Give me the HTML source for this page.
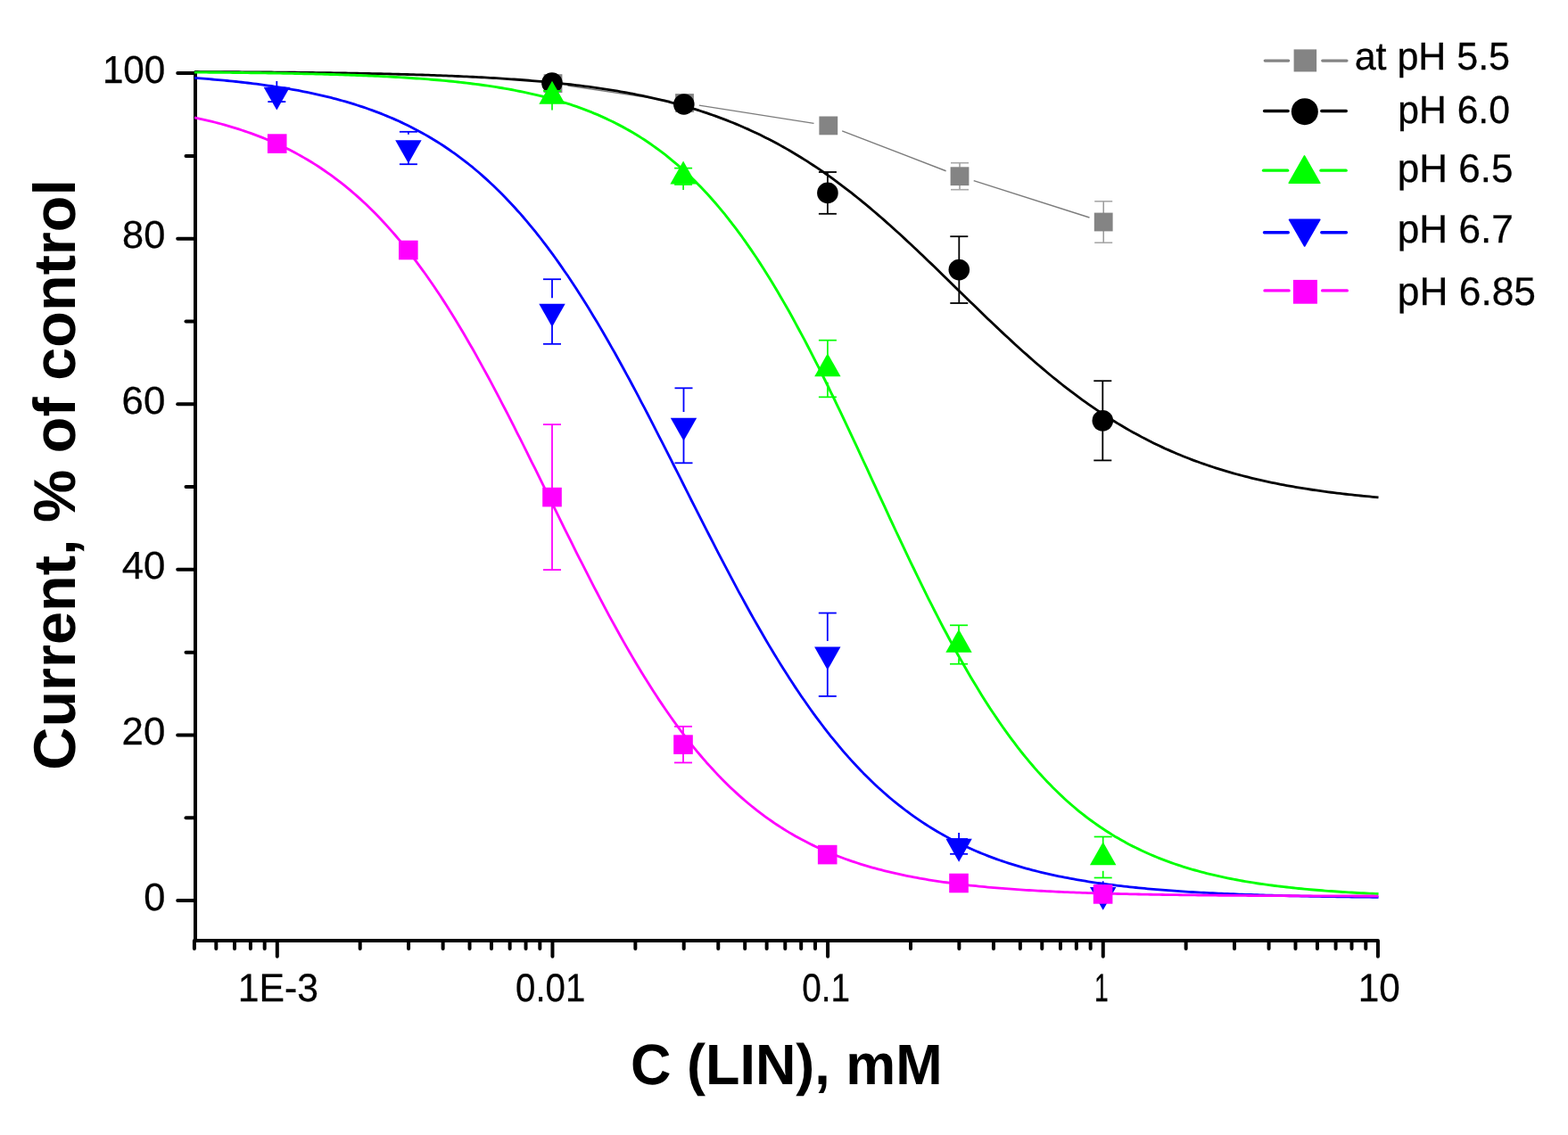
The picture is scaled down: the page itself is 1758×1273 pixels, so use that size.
<!DOCTYPE html>
<html lang="en"><head><meta charset="utf-8"><title>Current, % of control vs C (LIN), mM</title>
<style>
html,body{margin:0;padding:0;background:#fff;}
body{width:1758px;height:1273px;overflow:hidden;}
svg{display:block;}
text{white-space:pre;}
</style></head>
<body>
<svg width="1758" height="1273" viewBox="0 0 1758 1273">
<rect x="0" y="0" width="1758" height="1273" fill="#fff"/>
<path d="M219,81.9 L219,1055 L1544.9,1055 L1544.9,1072.8" stroke="#000" stroke-width="4" fill="none" stroke-linejoin="round" stroke-linecap="round"/>
<rect x="217.0" y="79.9" width="4" height="6" fill="#000"/>
<rect x="217.0" y="1049.0" width="4" height="8" fill="#000"/>
<g stroke="#000" stroke-width="4" fill="none" stroke-linecap="round">
<line x1="199.20" y1="1010.00" x2="219.00" y2="1010.00"/>
<line x1="208.50" y1="917.21" x2="219.00" y2="917.21"/>
<line x1="199.20" y1="824.42" x2="219.00" y2="824.42"/>
<line x1="208.50" y1="731.63" x2="219.00" y2="731.63"/>
<line x1="199.20" y1="638.84" x2="219.00" y2="638.84"/>
<line x1="208.50" y1="546.05" x2="219.00" y2="546.05"/>
<line x1="199.20" y1="453.26" x2="219.00" y2="453.26"/>
<line x1="208.50" y1="360.47" x2="219.00" y2="360.47"/>
<line x1="199.20" y1="267.68" x2="219.00" y2="267.68"/>
<line x1="208.50" y1="174.89" x2="219.00" y2="174.89"/>
<line x1="199.20" y1="82.10" x2="219.00" y2="82.10"/>
<line x1="217.89" y1="1055.00" x2="217.89" y2="1063.90"/>
<line x1="242.33" y1="1055.00" x2="242.33" y2="1063.90"/>
<line x1="262.99" y1="1055.00" x2="262.99" y2="1063.90"/>
<line x1="280.89" y1="1055.00" x2="280.89" y2="1063.90"/>
<line x1="296.68" y1="1055.00" x2="296.68" y2="1063.90"/>
<line x1="310.80" y1="1055.00" x2="310.80" y2="1072.80"/>
<line x1="403.71" y1="1055.00" x2="403.71" y2="1063.90"/>
<line x1="458.06" y1="1055.00" x2="458.06" y2="1063.90"/>
<line x1="496.63" y1="1055.00" x2="496.63" y2="1063.90"/>
<line x1="526.54" y1="1055.00" x2="526.54" y2="1063.90"/>
<line x1="550.98" y1="1055.00" x2="550.98" y2="1063.90"/>
<line x1="571.64" y1="1055.00" x2="571.64" y2="1063.90"/>
<line x1="589.54" y1="1055.00" x2="589.54" y2="1063.90"/>
<line x1="605.33" y1="1055.00" x2="605.33" y2="1063.90"/>
<line x1="619.45" y1="1055.00" x2="619.45" y2="1072.80"/>
<line x1="712.36" y1="1055.00" x2="712.36" y2="1063.90"/>
<line x1="766.71" y1="1055.00" x2="766.71" y2="1063.90"/>
<line x1="805.28" y1="1055.00" x2="805.28" y2="1063.90"/>
<line x1="835.19" y1="1055.00" x2="835.19" y2="1063.90"/>
<line x1="859.63" y1="1055.00" x2="859.63" y2="1063.90"/>
<line x1="880.29" y1="1055.00" x2="880.29" y2="1063.90"/>
<line x1="898.19" y1="1055.00" x2="898.19" y2="1063.90"/>
<line x1="913.98" y1="1055.00" x2="913.98" y2="1063.90"/>
<line x1="928.10" y1="1055.00" x2="928.10" y2="1072.80"/>
<line x1="1021.01" y1="1055.00" x2="1021.01" y2="1063.90"/>
<line x1="1075.36" y1="1055.00" x2="1075.36" y2="1063.90"/>
<line x1="1113.93" y1="1055.00" x2="1113.93" y2="1063.90"/>
<line x1="1143.84" y1="1055.00" x2="1143.84" y2="1063.90"/>
<line x1="1168.28" y1="1055.00" x2="1168.28" y2="1063.90"/>
<line x1="1188.94" y1="1055.00" x2="1188.94" y2="1063.90"/>
<line x1="1206.84" y1="1055.00" x2="1206.84" y2="1063.90"/>
<line x1="1222.63" y1="1055.00" x2="1222.63" y2="1063.90"/>
<line x1="1236.75" y1="1055.00" x2="1236.75" y2="1072.80"/>
<line x1="1329.66" y1="1055.00" x2="1329.66" y2="1063.90"/>
<line x1="1384.01" y1="1055.00" x2="1384.01" y2="1063.90"/>
<line x1="1422.58" y1="1055.00" x2="1422.58" y2="1063.90"/>
<line x1="1452.49" y1="1055.00" x2="1452.49" y2="1063.90"/>
<line x1="1476.93" y1="1055.00" x2="1476.93" y2="1063.90"/>
<line x1="1497.59" y1="1055.00" x2="1497.59" y2="1063.90"/>
<line x1="1515.49" y1="1055.00" x2="1515.49" y2="1063.90"/>
<line x1="1531.28" y1="1055.00" x2="1531.28" y2="1063.90"/>
</g>
<text transform="translate(114.89,92.65) scale(0.9694,1)" font-family='"Liberation Sans", sans-serif' stroke="#000" stroke-width="0.3" font-size="43.5" fill="#000" text-rendering="geometricPrecision" >100</text>
<text transform="translate(137.12,278.05) scale(0.9956,1)" font-family='"Liberation Sans", sans-serif' stroke="#000" stroke-width="0.3" font-size="43.5" fill="#000" text-rendering="geometricPrecision" >80</text>
<text transform="translate(136.57,464.15) scale(1.0073,1)" font-family='"Liberation Sans", sans-serif' stroke="#000" stroke-width="0.3" font-size="43.5" fill="#000" text-rendering="geometricPrecision" >60</text>
<text transform="translate(136.70,648.65) scale(1.0046,1)" font-family='"Liberation Sans", sans-serif' stroke="#000" stroke-width="0.3" font-size="43.5" fill="#000" text-rendering="geometricPrecision" >40</text>
<text transform="translate(136.60,835.05) scale(1.0068,1)" font-family='"Liberation Sans", sans-serif' stroke="#000" stroke-width="0.3" font-size="43.5" fill="#000" text-rendering="geometricPrecision" >20</text>
<text transform="translate(161.21,1021.05) scale(0.9955,1)" font-family='"Liberation Sans", sans-serif' stroke="#000" stroke-width="0.3" font-size="43.5" fill="#000" text-rendering="geometricPrecision" >0</text>
<text transform="translate(266.75,1122.50) scale(0.9631,1)" font-family='"Liberation Sans", sans-serif' stroke="#000" stroke-width="0.3" font-size="44.3" fill="#000" text-rendering="geometricPrecision" >1E-3</text>
<text transform="translate(578.03,1122.50) scale(0.9074,1)" font-family='"Liberation Sans", sans-serif' stroke="#000" stroke-width="0.3" font-size="44.3" fill="#000" text-rendering="geometricPrecision" >0.01</text>
<text transform="translate(899.19,1122.50) scale(0.8719,1)" font-family='"Liberation Sans", sans-serif' stroke="#000" stroke-width="0.3" font-size="44.3" fill="#000" text-rendering="geometricPrecision" >0.1</text>
<text transform="translate(1227.04,1122.50) scale(0.6387,1)" font-family='"Liberation Sans", sans-serif' stroke="#000" stroke-width="0.3" font-size="44.3" fill="#000" text-rendering="geometricPrecision" >1</text>
<text transform="translate(1522.68,1122.50) scale(0.9531,1)" font-family='"Liberation Sans", sans-serif' stroke="#000" stroke-width="0.3" font-size="44.3" fill="#000" text-rendering="geometricPrecision" >10</text>
<text transform="translate(707.12,1216.00) scale(0.9818,1)" font-family='"Liberation Sans", sans-serif' font-weight="bold" font-size="64.1" fill="#000" text-rendering="geometricPrecision" >C (LIN), mM</text>
<text transform="translate(84.00,863.73) rotate(-90) scale(1.0069,1)" font-family='"Liberation Sans", sans-serif' font-weight="bold" font-size="66.2" fill="#000" text-rendering="geometricPrecision">Current, % of control</text>
<g><line x1="636.32" y1="96.02" x2="751.18" y2="113.08" stroke="#7c7c7c" stroke-width="1.4"/><line x1="783.80" y1="118.07" x2="912.50" y2="138.33" stroke="#7c7c7c" stroke-width="1.4"/><line x1="944.19" y1="146.84" x2="1060.61" y2="191.76" stroke="#7c7c7c" stroke-width="1.4"/><line x1="1091.72" y1="202.70" x2="1221.48" y2="244.00" stroke="#7c7c7c" stroke-width="1.4"/><g stroke="#8a8a8a" fill="none"><line x1="1076.00" y1="182.70" x2="1076.00" y2="187.70" stroke-width="1.3"/><line x1="1066.00" y1="182.70" x2="1086.00" y2="182.70" stroke-width="1.6" stroke="#a8a8a8"/><line x1="1076.00" y1="212.70" x2="1076.00" y2="207.70" stroke-width="1.3"/><line x1="1066.00" y1="212.70" x2="1086.00" y2="212.70" stroke-width="1.6" stroke="#a8a8a8"/></g><g stroke="#8a8a8a" fill="none"><line x1="1237.20" y1="225.80" x2="1237.20" y2="239.00" stroke-width="1.3"/><line x1="1227.20" y1="225.80" x2="1247.20" y2="225.80" stroke-width="1.6" stroke="#a8a8a8"/><line x1="1237.20" y1="272.20" x2="1237.20" y2="259.00" stroke-width="1.3"/><line x1="1227.20" y1="272.20" x2="1247.20" y2="272.20" stroke-width="1.6" stroke="#a8a8a8"/></g><rect x="609.60" y="83.20" width="20.80" height="20.80" fill="#848484"/><rect x="757.10" y="105.10" width="20.80" height="20.80" fill="#848484"/><rect x="918.40" y="130.50" width="20.80" height="20.80" fill="#848484"/><rect x="1065.60" y="187.30" width="20.80" height="20.80" fill="#848484"/><rect x="1226.80" y="238.60" width="20.80" height="20.80" fill="#848484"/></g>
<g><g stroke="#000" fill="none"><line x1="927.90" y1="193.00" x2="927.90" y2="205.40" stroke-width="1.8"/><line x1="917.90" y1="193.00" x2="937.90" y2="193.00" stroke-width="1.8"/><line x1="927.90" y1="239.80" x2="927.90" y2="227.40" stroke-width="1.8"/><line x1="917.90" y1="239.80" x2="937.90" y2="239.80" stroke-width="1.8"/></g><g stroke="#000" fill="none"><line x1="1075.30" y1="265.20" x2="1075.30" y2="291.60" stroke-width="1.8"/><line x1="1065.30" y1="265.20" x2="1085.30" y2="265.20" stroke-width="1.8"/><line x1="1075.30" y1="340.00" x2="1075.30" y2="313.60" stroke-width="1.8"/><line x1="1065.30" y1="340.00" x2="1085.30" y2="340.00" stroke-width="1.8"/></g><g stroke="#000" fill="none"><line x1="1236.30" y1="427.20" x2="1236.30" y2="460.80" stroke-width="1.8"/><line x1="1226.30" y1="427.20" x2="1246.30" y2="427.20" stroke-width="1.8"/><line x1="1236.30" y1="516.40" x2="1236.30" y2="482.80" stroke-width="1.8"/><line x1="1226.30" y1="516.40" x2="1246.30" y2="516.40" stroke-width="1.8"/></g><circle cx="618.90" cy="93.00" r="11.80" fill="#000"/><circle cx="766.80" cy="117.00" r="11.80" fill="#000"/><circle cx="927.90" cy="216.40" r="11.80" fill="#000"/><circle cx="1075.30" cy="302.60" r="11.80" fill="#000"/><circle cx="1236.30" cy="471.80" r="11.80" fill="#000"/><polyline points="218.0,80.50 221.3,80.52 224.6,80.53 228.0,80.54 231.3,80.56 234.6,80.58 237.9,80.59 241.2,80.61 244.6,80.63 247.9,80.64 251.2,80.66 254.5,80.68 257.8,80.70 261.1,80.72 264.5,80.74 267.8,80.76 271.1,80.78 274.4,80.80 277.7,80.82 281.1,80.84 284.4,80.87 287.7,80.89 291.0,80.92 294.3,80.94 297.6,80.97 301.0,80.99 304.3,81.02 307.6,81.05 310.9,81.08 314.2,81.11 317.6,81.14 320.9,81.17 324.2,81.20 327.5,81.23 330.8,81.27 334.2,81.30 337.5,81.34 340.8,81.37 344.1,81.41 347.4,81.45 350.8,81.49 354.1,81.53 357.4,81.57 360.7,81.61 364.0,81.66 367.3,81.70 370.7,81.75 374.0,81.80 377.3,81.85 380.6,81.90 383.9,81.95 387.3,82.00 390.6,82.05 393.9,82.11 397.2,82.17 400.5,82.23 403.9,82.29 407.2,82.35 410.5,82.41 413.8,82.48 417.1,82.54 420.4,82.61 423.8,82.68 427.1,82.75 430.4,82.83 433.7,82.90 437.0,82.98 440.4,83.06 443.7,83.15 447.0,83.23 450.3,83.32 453.6,83.41 456.9,83.50 460.3,83.59 463.6,83.69 466.9,83.79 470.2,83.89 473.5,83.99 476.9,84.10 480.2,84.21 483.5,84.32 486.8,84.44 490.1,84.56 493.5,84.68 496.8,84.80 500.1,84.93 503.4,85.06 506.7,85.20 510.1,85.34 513.4,85.48 516.7,85.63 520.0,85.78 523.3,85.93 526.6,86.09 530.0,86.25 533.3,86.42 536.6,86.59 539.9,86.76 543.2,86.94 546.6,87.13 549.9,87.32 553.2,87.51 556.5,87.71 559.8,87.91 563.1,88.12 566.5,88.34 569.8,88.56 573.1,88.79 576.4,89.02 579.7,89.26 583.1,89.50 586.4,89.75 589.7,90.01 593.0,90.27 596.3,90.54 599.7,90.82 603.0,91.11 606.3,91.40 609.6,91.70 612.9,92.01 616.2,92.32 619.6,92.64 622.9,92.98 626.2,93.32 629.5,93.66 632.8,94.02 636.2,94.39 639.5,94.76 642.8,95.15 646.1,95.54 649.4,95.95 652.8,96.36 656.1,96.79 659.4,97.22 662.7,97.67 666.0,98.13 669.4,98.60 672.7,99.08 676.0,99.57 679.3,100.08 682.6,100.59 685.9,101.12 689.3,101.67 692.6,102.22 695.9,102.79 699.2,103.38 702.5,103.97 705.9,104.59 709.2,105.21 712.5,105.86 715.8,106.51 719.1,107.19 722.5,107.88 725.8,108.58 729.1,109.31 732.4,110.04 735.7,110.80 739.0,111.58 742.4,112.37 745.7,113.18 749.0,114.01 752.3,114.86 755.6,115.73 759.0,116.62 762.3,117.53 765.6,118.46 768.9,119.41 772.2,120.38 775.5,121.37 778.9,122.39 782.2,123.43 785.5,124.49 788.8,125.57 792.1,126.68 795.5,127.81 798.8,128.97 802.1,130.15 805.4,131.36 808.7,132.59 812.1,133.85 815.4,135.13 818.7,136.45 822.0,137.78 825.3,139.15 828.6,140.54 832.0,141.96 835.3,143.41 838.6,144.89 841.9,146.40 845.2,147.94 848.6,149.50 851.9,151.10 855.2,152.73 858.5,154.38 861.8,156.07 865.2,157.79 868.5,159.54 871.8,161.32 875.1,163.14 878.4,164.98 881.8,166.86 885.1,168.77 888.4,170.72 891.7,172.69 895.0,174.70 898.3,176.74 901.7,178.82 905.0,180.93 908.3,183.07 911.6,185.24 914.9,187.45 918.3,189.69 921.6,191.96 924.9,194.27 928.2,196.61 931.5,198.98 934.9,201.38 938.2,203.82 941.5,206.28 944.8,208.78 948.1,211.32 951.4,213.88 954.8,216.47 958.1,219.10 961.4,221.75 964.7,224.44 968.0,227.15 971.4,229.89 974.7,232.66 978.0,235.46 981.3,238.29 984.6,241.14 988.0,244.01 991.3,246.92 994.6,249.85 997.9,252.80 1001.2,255.77 1004.5,258.77 1007.9,261.79 1011.2,264.82 1014.5,267.88 1017.8,270.96 1021.1,274.05 1024.5,277.17 1027.8,280.29 1031.1,283.44 1034.4,286.59 1037.7,289.76 1041.0,292.94 1044.4,296.14 1047.7,299.34 1051.0,302.55 1054.3,305.77 1057.6,308.99 1061.0,312.23 1064.3,315.46 1067.6,318.70 1070.9,321.94 1074.2,325.18 1077.6,328.42 1080.9,331.66 1084.2,334.90 1087.5,338.13 1090.8,341.36 1094.2,344.58 1097.5,347.80 1100.8,351.00 1104.1,354.20 1107.4,357.39 1110.7,360.56 1114.1,363.73 1117.4,366.88 1120.7,370.01 1124.0,373.14 1127.3,376.24 1130.7,379.33 1134.0,382.39 1137.3,385.44 1140.6,388.47 1143.9,391.48 1147.2,394.47 1150.6,397.43 1153.9,400.37 1157.2,403.29 1160.5,406.18 1163.8,409.04 1167.2,411.88 1170.5,414.69 1173.8,417.48 1177.1,420.24 1180.4,422.97 1183.8,425.66 1187.1,428.34 1190.4,430.98 1193.7,433.59 1197.0,436.16 1200.3,438.71 1203.7,441.23 1207.0,443.71 1210.3,446.17 1213.6,448.59 1216.9,450.98 1220.3,453.33 1223.6,455.66 1226.9,457.95 1230.2,460.20 1233.5,462.43 1236.9,464.62 1240.2,466.78 1243.5,468.90 1246.8,471.00 1250.1,473.05 1253.5,475.08 1256.8,477.07 1260.1,479.03 1263.4,480.96 1266.7,482.86 1270.0,484.72 1273.4,486.55 1276.7,488.35 1280.0,490.12 1283.3,491.86 1286.6,493.56 1290.0,495.23 1293.3,496.88 1296.6,498.49 1299.9,500.07 1303.2,501.62 1306.5,503.15 1309.9,504.64 1313.2,506.11 1316.5,507.54 1319.8,508.95 1323.1,510.33 1326.5,511.68 1329.8,513.01 1333.1,514.31 1336.4,515.58 1339.7,516.82 1343.1,518.04 1346.4,519.24 1349.7,520.41 1353.0,521.55 1356.3,522.68 1359.7,523.77 1363.0,524.85 1366.3,525.90 1369.6,526.92 1372.9,527.93 1376.2,528.91 1379.6,529.88 1382.9,530.82 1386.2,531.74 1389.5,532.64 1392.8,533.51 1396.2,534.37 1399.5,535.21 1402.8,536.04 1406.1,536.84 1409.4,537.62 1412.8,538.39 1416.1,539.14 1419.4,539.87 1422.7,540.58 1426.0,541.28 1429.3,541.96 1432.7,542.63 1436.0,543.28 1439.3,543.92 1442.6,544.54 1445.9,545.14 1449.3,545.73 1452.6,546.31 1455.9,546.87 1459.2,547.42 1462.5,547.96 1465.8,548.48 1469.2,549.00 1472.5,549.50 1475.8,549.98 1479.1,550.46 1482.4,550.92 1485.8,551.37 1489.1,551.82 1492.4,552.25 1495.7,552.67 1499.0,553.08 1502.4,553.48 1505.7,553.87 1509.0,554.25 1512.3,554.62 1515.6,554.98 1519.0,555.33 1522.3,555.68 1525.6,556.01 1528.9,556.34 1532.2,556.66 1535.5,556.97 1538.9,557.28 1542.2,557.57 1545.5,557.86" fill="none" stroke="#000" stroke-width="2.8" stroke-linejoin="round" stroke-linecap="butt"/></g>
<g><g stroke="#00ff00" fill="none"><line x1="619.00" y1="101.90" x2="619.00" y2="92.80" stroke-width="1.7"/><line x1="609.00" y1="101.90" x2="629.00" y2="101.90" stroke-width="1.7"/><line x1="619.00" y1="114.30" x2="619.00" y2="123.40" stroke-width="1.7"/><line x1="609.00" y1="114.30" x2="629.00" y2="114.30" stroke-width="1.7"/></g><g stroke="#00ff00" fill="none"><line x1="766.10" y1="188.60" x2="766.10" y2="182.50" stroke-width="1.7"/><line x1="756.10" y1="188.60" x2="776.10" y2="188.60" stroke-width="1.7"/><line x1="766.10" y1="207.00" x2="766.10" y2="213.10" stroke-width="1.7"/><line x1="756.10" y1="207.00" x2="776.10" y2="207.00" stroke-width="1.7"/></g><g stroke="#00ff00" fill="none"><line x1="927.90" y1="381.65" x2="927.90" y2="398.20" stroke-width="1.7"/><line x1="917.90" y1="381.65" x2="937.90" y2="381.65" stroke-width="1.7"/><line x1="927.90" y1="445.35" x2="927.90" y2="428.80" stroke-width="1.7"/><line x1="917.90" y1="445.35" x2="937.90" y2="445.35" stroke-width="1.7"/></g><g stroke="#00ff00" fill="none"><line x1="1075.00" y1="701.30" x2="1075.00" y2="707.70" stroke-width="1.7"/><line x1="1065.00" y1="701.30" x2="1085.00" y2="701.30" stroke-width="1.7"/><line x1="1075.00" y1="744.70" x2="1075.00" y2="738.30" stroke-width="1.7"/><line x1="1065.00" y1="744.70" x2="1085.00" y2="744.70" stroke-width="1.7"/></g><g stroke="#00ff00" fill="none"><line x1="1236.70" y1="938.50" x2="1236.70" y2="946.20" stroke-width="1.7"/><line x1="1226.70" y1="938.50" x2="1246.70" y2="938.50" stroke-width="1.7"/><line x1="1236.70" y1="984.50" x2="1236.70" y2="976.80" stroke-width="1.7"/><line x1="1226.70" y1="984.50" x2="1246.70" y2="984.50" stroke-width="1.7"/></g><polygon points="619.00,90.83 633.70,116.73 604.30,116.73" fill="#00ff00"/><polygon points="766.10,180.53 780.80,206.43 751.40,206.43" fill="#00ff00"/><polygon points="927.90,396.23 942.60,422.13 913.20,422.13" fill="#00ff00"/><polygon points="1075.00,705.73 1089.70,731.63 1060.30,731.63" fill="#00ff00"/><polygon points="1236.70,944.23 1251.40,970.13 1222.00,970.13" fill="#00ff00"/><polyline points="218.0,81.08 221.3,81.10 224.6,81.12 228.0,81.15 231.3,81.17 234.6,81.20 237.9,81.23 241.2,81.26 244.6,81.29 247.9,81.32 251.2,81.35 254.5,81.38 257.8,81.41 261.1,81.45 264.5,81.48 267.8,81.52 271.1,81.56 274.4,81.59 277.7,81.63 281.1,81.68 284.4,81.72 287.7,81.76 291.0,81.81 294.3,81.85 297.6,81.90 301.0,81.95 304.3,82.00 307.6,82.06 310.9,82.11 314.2,82.17 317.6,82.22 320.9,82.28 324.2,82.34 327.5,82.41 330.8,82.47 334.2,82.54 337.5,82.61 340.8,82.68 344.1,82.76 347.4,82.83 350.8,82.91 354.1,82.99 357.4,83.08 360.7,83.16 364.0,83.25 367.3,83.34 370.7,83.44 374.0,83.53 377.3,83.63 380.6,83.74 383.9,83.85 387.3,83.96 390.6,84.07 393.9,84.19 397.2,84.31 400.5,84.43 403.9,84.56 407.2,84.69 410.5,84.83 413.8,84.97 417.1,85.12 420.4,85.27 423.8,85.42 427.1,85.58 430.4,85.75 433.7,85.92 437.0,86.09 440.4,86.27 443.7,86.46 447.0,86.65 450.3,86.85 453.6,87.05 456.9,87.26 460.3,87.48 463.6,87.70 466.9,87.93 470.2,88.17 473.5,88.41 476.9,88.66 480.2,88.92 483.5,89.19 486.8,89.47 490.1,89.75 493.5,90.05 496.8,90.35 500.1,90.66 503.4,90.98 506.7,91.31 510.1,91.66 513.4,92.01 516.7,92.37 520.0,92.74 523.3,93.13 526.6,93.53 530.0,93.94 533.3,94.36 536.6,94.79 539.9,95.24 543.2,95.70 546.6,96.18 549.9,96.67 553.2,97.17 556.5,97.69 559.8,98.23 563.1,98.78 566.5,99.35 569.8,99.94 573.1,100.54 576.4,101.16 579.7,101.80 583.1,102.46 586.4,103.14 589.7,103.84 593.0,104.57 596.3,105.31 599.7,106.07 603.0,106.86 606.3,107.67 609.6,108.50 612.9,109.36 616.2,110.25 619.6,111.16 622.9,112.09 626.2,113.06 629.5,114.05 632.8,115.07 636.2,116.13 639.5,117.21 642.8,118.32 646.1,119.47 649.4,120.64 652.8,121.86 656.1,123.10 659.4,124.39 662.7,125.70 666.0,127.06 669.4,128.45 672.7,129.89 676.0,131.36 679.3,132.88 682.6,134.44 685.9,136.04 689.3,137.68 692.6,139.37 695.9,141.11 699.2,142.89 702.5,144.72 705.9,146.61 709.2,148.54 712.5,150.52 715.8,152.56 719.1,154.65 722.5,156.80 725.8,159.00 729.1,161.26 732.4,163.58 735.7,165.96 739.0,168.40 742.4,170.90 745.7,173.46 749.0,176.09 752.3,178.78 755.6,181.54 759.0,184.37 762.3,187.27 765.6,190.23 768.9,193.27 772.2,196.38 775.5,199.56 778.9,202.82 782.2,206.15 785.5,209.56 788.8,213.05 792.1,216.61 795.5,220.25 798.8,223.97 802.1,227.78 805.4,231.66 808.7,235.62 812.1,239.67 815.4,243.80 818.7,248.02 822.0,252.31 825.3,256.70 828.6,261.17 832.0,265.72 835.3,270.36 838.6,275.08 841.9,279.89 845.2,284.79 848.6,289.77 851.9,294.84 855.2,299.99 858.5,305.22 861.8,310.54 865.2,315.95 868.5,321.43 871.8,327.00 875.1,332.65 878.4,338.38 881.8,344.19 885.1,350.08 888.4,356.05 891.7,362.09 895.0,368.20 898.3,374.39 901.7,380.64 905.0,386.97 908.3,393.36 911.6,399.82 914.9,406.34 918.3,412.92 921.6,419.55 924.9,426.25 928.2,432.99 931.5,439.79 934.9,446.63 938.2,453.52 941.5,460.45 944.8,467.41 948.1,474.42 951.4,481.45 954.8,488.52 958.1,495.61 961.4,502.72 964.7,509.86 968.0,517.01 971.4,524.17 974.7,531.34 978.0,538.52 981.3,545.70 984.6,552.88 988.0,560.06 991.3,567.23 994.6,574.38 997.9,581.53 1001.2,588.65 1004.5,595.75 1007.9,602.83 1011.2,609.88 1014.5,616.90 1017.8,623.88 1021.1,630.83 1024.5,637.74 1027.8,644.60 1031.1,651.42 1034.4,658.19 1037.7,664.91 1041.0,671.57 1044.4,678.18 1047.7,684.73 1051.0,691.21 1054.3,697.64 1057.6,703.99 1061.0,710.28 1064.3,716.50 1067.6,722.65 1070.9,728.72 1074.2,734.72 1077.6,740.65 1080.9,746.50 1084.2,752.26 1087.5,757.95 1090.8,763.56 1094.2,769.09 1097.5,774.53 1100.8,779.89 1104.1,785.16 1107.4,790.36 1110.7,795.46 1114.1,800.48 1117.4,805.42 1120.7,810.27 1124.0,815.03 1127.3,819.71 1130.7,824.31 1134.0,828.82 1137.3,833.24 1140.6,837.58 1143.9,841.83 1147.2,846.00 1150.6,850.09 1153.9,854.09 1157.2,858.01 1160.5,861.85 1163.8,865.61 1167.2,869.29 1170.5,872.89 1173.8,876.41 1177.1,879.86 1180.4,883.23 1183.8,886.52 1187.1,889.74 1190.4,892.88 1193.7,895.95 1197.0,898.95 1200.3,901.88 1203.7,904.74 1207.0,907.53 1210.3,910.26 1213.6,912.92 1216.9,915.51 1220.3,918.04 1223.6,920.51 1226.9,922.92 1230.2,925.26 1233.5,927.55 1236.9,929.78 1240.2,931.95 1243.5,934.07 1246.8,936.13 1250.1,938.14 1253.5,940.10 1256.8,942.00 1260.1,943.86 1263.4,945.67 1266.7,947.42 1270.0,949.14 1273.4,950.80 1276.7,952.42 1280.0,954.00 1283.3,955.54 1286.6,957.03 1290.0,958.48 1293.3,959.90 1296.6,961.27 1299.9,962.61 1303.2,963.90 1306.5,965.17 1309.9,966.40 1313.2,967.59 1316.5,968.75 1319.8,969.88 1323.1,970.98 1326.5,972.04 1329.8,973.08 1333.1,974.08 1336.4,975.06 1339.7,976.01 1343.1,976.93 1346.4,977.83 1349.7,978.70 1353.0,979.55 1356.3,980.37 1359.7,981.17 1363.0,981.94 1366.3,982.70 1369.6,983.43 1372.9,984.14 1376.2,984.82 1379.6,985.49 1382.9,986.14 1386.2,986.77 1389.5,987.39 1392.8,987.98 1396.2,988.56 1399.5,989.12 1402.8,989.66 1406.1,990.19 1409.4,990.70 1412.8,991.20 1416.1,991.68 1419.4,992.15 1422.7,992.60 1426.0,993.04 1429.3,993.47 1432.7,993.89 1436.0,994.29 1439.3,994.68 1442.6,995.06 1445.9,995.43 1449.3,995.79 1452.6,996.13 1455.9,996.47 1459.2,996.80 1462.5,997.11 1465.8,997.42 1469.2,997.72 1472.5,998.01 1475.8,998.29 1479.1,998.56 1482.4,998.82 1485.8,999.08 1489.1,999.33 1492.4,999.57 1495.7,999.80 1499.0,1000.03 1502.4,1000.25 1505.7,1000.46 1509.0,1000.67 1512.3,1000.87 1515.6,1001.06 1519.0,1001.25 1522.3,1001.43 1525.6,1001.61 1528.9,1001.78 1532.2,1001.95 1535.5,1002.11 1538.9,1002.27 1542.2,1002.42 1545.5,1002.57" fill="none" stroke="#00ff00" stroke-width="2.9" stroke-linejoin="round" stroke-linecap="butt"/></g>
<g><g stroke="#0000ff" fill="none"><line x1="310.30" y1="98.50" x2="310.30" y2="91.00" stroke-width="1.8"/><line x1="300.30" y1="98.50" x2="320.30" y2="98.50" stroke-width="1.8"/><line x1="310.30" y1="114.10" x2="310.30" y2="121.60" stroke-width="1.8"/><line x1="300.30" y1="114.10" x2="320.30" y2="114.10" stroke-width="1.8"/></g><g stroke="#0000ff" fill="none"><line x1="457.90" y1="147.80" x2="457.90" y2="150.70" stroke-width="1.8"/><line x1="447.90" y1="147.80" x2="467.90" y2="147.80" stroke-width="1.8"/><line x1="457.90" y1="184.20" x2="457.90" y2="181.30" stroke-width="1.8"/><line x1="447.90" y1="184.20" x2="467.90" y2="184.20" stroke-width="1.8"/></g><g stroke="#0000ff" fill="none"><line x1="619.00" y1="313.20" x2="619.00" y2="334.20" stroke-width="1.8"/><line x1="609.00" y1="313.20" x2="629.00" y2="313.20" stroke-width="1.8"/><line x1="619.00" y1="385.80" x2="619.00" y2="364.80" stroke-width="1.8"/><line x1="609.00" y1="385.80" x2="629.00" y2="385.80" stroke-width="1.8"/></g><g stroke="#0000ff" fill="none"><line x1="766.50" y1="435.30" x2="766.50" y2="462.00" stroke-width="1.8"/><line x1="756.50" y1="435.30" x2="776.50" y2="435.30" stroke-width="1.8"/><line x1="766.50" y1="519.30" x2="766.50" y2="492.60" stroke-width="1.8"/><line x1="756.50" y1="519.30" x2="776.50" y2="519.30" stroke-width="1.8"/></g><g stroke="#0000ff" fill="none"><line x1="927.80" y1="687.55" x2="927.80" y2="718.90" stroke-width="1.8"/><line x1="917.80" y1="687.55" x2="937.80" y2="687.55" stroke-width="1.8"/><line x1="927.80" y1="780.85" x2="927.80" y2="749.50" stroke-width="1.8"/><line x1="917.80" y1="780.85" x2="937.80" y2="780.85" stroke-width="1.8"/></g><g stroke="#0000ff" fill="none"><line x1="1075.10" y1="941.00" x2="1075.10" y2="934.10" stroke-width="1.8"/><line x1="1065.10" y1="941.00" x2="1085.10" y2="941.00" stroke-width="1.8"/><line x1="1075.10" y1="957.80" x2="1075.10" y2="964.70" stroke-width="1.8"/><line x1="1065.10" y1="957.80" x2="1085.10" y2="957.80" stroke-width="1.8"/></g><g stroke="#0000ff" fill="none"><line x1="1236.70" y1="1000.60" x2="1236.70" y2="988.30" stroke-width="1.8"/><line x1="1226.70" y1="1000.60" x2="1246.70" y2="1000.60" stroke-width="1.8"/><line x1="1236.70" y1="1006.60" x2="1236.70" y2="1018.90" stroke-width="1.8"/><line x1="1226.70" y1="1006.60" x2="1246.70" y2="1006.60" stroke-width="1.8"/></g><polygon points="295.60,97.67 325.00,97.67 310.30,123.57" fill="#0000ff"/><polygon points="443.20,157.37 472.60,157.37 457.90,183.27" fill="#0000ff"/><polygon points="604.30,340.87 633.70,340.87 619.00,366.77" fill="#0000ff"/><polygon points="751.80,468.67 781.20,468.67 766.50,494.57" fill="#0000ff"/><polygon points="913.10,725.57 942.50,725.57 927.80,751.47" fill="#0000ff"/><polygon points="1060.40,940.77 1089.80,940.77 1075.10,966.67" fill="#0000ff"/><polygon points="1222.00,994.97 1251.40,994.97 1236.70,1020.87" fill="#0000ff"/><polyline points="218.0,87.43 221.3,87.68 224.6,87.92 228.0,88.18 231.3,88.44 234.6,88.71 237.9,88.99 241.2,89.28 244.6,89.57 247.9,89.87 251.2,90.18 254.5,90.50 257.8,90.83 261.1,91.17 264.5,91.51 267.8,91.87 271.1,92.24 274.4,92.61 277.7,93.00 281.1,93.40 284.4,93.81 287.7,94.23 291.0,94.66 294.3,95.10 297.6,95.56 301.0,96.03 304.3,96.51 307.6,97.01 310.9,97.51 314.2,98.04 317.6,98.58 320.9,99.13 324.2,99.70 327.5,100.28 330.8,100.88 334.2,101.49 337.5,102.13 340.8,102.78 344.1,103.44 347.4,104.13 350.8,104.83 354.1,105.56 357.4,106.30 360.7,107.06 364.0,107.85 367.3,108.65 370.7,109.48 374.0,110.33 377.3,111.20 380.6,112.09 383.9,113.01 387.3,113.95 390.6,114.92 393.9,115.92 397.2,116.94 400.5,117.98 403.9,119.06 407.2,120.16 410.5,121.29 413.8,122.45 417.1,123.65 420.4,124.87 423.8,126.12 427.1,127.41 430.4,128.73 433.7,130.08 437.0,131.47 440.4,132.89 443.7,134.35 447.0,135.85 450.3,137.39 453.6,138.96 456.9,140.57 460.3,142.22 463.6,143.92 466.9,145.65 470.2,147.43 473.5,149.25 476.9,151.12 480.2,153.03 483.5,154.99 486.8,156.99 490.1,159.04 493.5,161.14 496.8,163.29 500.1,165.49 503.4,167.75 506.7,170.05 510.1,172.41 513.4,174.82 516.7,177.29 520.0,179.81 523.3,182.39 526.6,185.03 530.0,187.72 533.3,190.48 536.6,193.29 539.9,196.17 543.2,199.10 546.6,202.10 549.9,205.16 553.2,208.29 556.5,211.48 559.8,214.74 563.1,218.06 566.5,221.45 569.8,224.91 573.1,228.43 576.4,232.02 579.7,235.69 583.1,239.42 586.4,243.22 589.7,247.09 593.0,251.03 596.3,255.04 599.7,259.13 603.0,263.28 606.3,267.51 609.6,271.81 612.9,276.18 616.2,280.63 619.6,285.14 622.9,289.73 626.2,294.39 629.5,299.12 632.8,303.92 636.2,308.79 639.5,313.73 642.8,318.75 646.1,323.83 649.4,328.98 652.8,334.19 656.1,339.48 659.4,344.83 662.7,350.25 666.0,355.73 669.4,361.27 672.7,366.88 676.0,372.54 679.3,378.27 682.6,384.05 685.9,389.89 689.3,395.79 692.6,401.74 695.9,407.74 699.2,413.79 702.5,419.89 705.9,426.03 709.2,432.22 712.5,438.45 715.8,444.72 719.1,451.03 722.5,457.37 725.8,463.75 729.1,470.16 732.4,476.60 735.7,483.06 739.0,489.55 742.4,496.06 745.7,502.58 749.0,509.13 752.3,515.69 755.6,522.25 759.0,528.83 762.3,535.41 765.6,542.00 768.9,548.59 772.2,555.17 775.5,561.75 778.9,568.32 782.2,574.88 785.5,581.43 788.8,587.97 792.1,594.48 795.5,600.98 798.8,607.45 802.1,613.90 805.4,620.32 808.7,626.71 812.1,633.07 815.4,639.39 818.7,645.67 822.0,651.92 825.3,658.12 828.6,664.29 832.0,670.40 835.3,676.47 838.6,682.49 841.9,688.46 845.2,694.37 848.6,700.23 851.9,706.04 855.2,711.79 858.5,717.48 861.8,723.10 865.2,728.67 868.5,734.18 871.8,739.62 875.1,744.99 878.4,750.30 881.8,755.55 885.1,760.72 888.4,765.83 891.7,770.87 895.0,775.83 898.3,780.73 901.7,785.56 905.0,790.32 908.3,795.00 911.6,799.62 914.9,804.16 918.3,808.63 921.6,813.03 924.9,817.35 928.2,821.61 931.5,825.79 934.9,829.90 938.2,833.94 941.5,837.91 944.8,841.81 948.1,845.64 951.4,849.39 954.8,853.08 958.1,856.70 961.4,860.25 964.7,863.73 968.0,867.15 971.4,870.49 974.7,873.77 978.0,876.99 981.3,880.14 984.6,883.23 988.0,886.25 991.3,889.21 994.6,892.11 997.9,894.94 1001.2,897.72 1004.5,900.44 1007.9,903.10 1011.2,905.70 1014.5,908.24 1017.8,910.73 1021.1,913.16 1024.5,915.54 1027.8,917.86 1031.1,920.14 1034.4,922.36 1037.7,924.53 1041.0,926.65 1044.4,928.72 1047.7,930.74 1051.0,932.71 1054.3,934.64 1057.6,936.52 1061.0,938.36 1064.3,940.16 1067.6,941.91 1070.9,943.62 1074.2,945.28 1077.6,946.91 1080.9,948.50 1084.2,950.05 1087.5,951.56 1090.8,953.03 1094.2,954.47 1097.5,955.87 1100.8,957.24 1104.1,958.57 1107.4,959.87 1110.7,961.13 1114.1,962.37 1117.4,963.57 1120.7,964.74 1124.0,965.89 1127.3,967.00 1130.7,968.09 1134.0,969.14 1137.3,970.17 1140.6,971.18 1143.9,972.15 1147.2,973.11 1150.6,974.04 1153.9,974.94 1157.2,975.82 1160.5,976.68 1163.8,977.51 1167.2,978.32 1170.5,979.12 1173.8,979.89 1177.1,980.64 1180.4,981.37 1183.8,982.08 1187.1,982.77 1190.4,983.45 1193.7,984.10 1197.0,984.74 1200.3,985.36 1203.7,985.97 1207.0,986.56 1210.3,987.13 1213.6,987.69 1216.9,988.23 1220.3,988.76 1223.6,989.27 1226.9,989.77 1230.2,990.26 1233.5,990.74 1236.9,991.20 1240.2,991.65 1243.5,992.08 1246.8,992.51 1250.1,992.92 1253.5,993.32 1256.8,993.71 1260.1,994.09 1263.4,994.46 1266.7,994.82 1270.0,995.17 1273.4,995.51 1276.7,995.85 1280.0,996.17 1283.3,996.48 1286.6,996.79 1290.0,997.08 1293.3,997.37 1296.6,997.65 1299.9,997.93 1303.2,998.19 1306.5,998.45 1309.9,998.70 1313.2,998.94 1316.5,999.18 1319.8,999.41 1323.1,999.64 1326.5,999.86 1329.8,1000.07 1333.1,1000.28 1336.4,1000.48 1339.7,1000.67 1343.1,1000.86 1346.4,1001.05 1349.7,1001.23 1353.0,1001.40 1356.3,1001.57 1359.7,1001.74 1363.0,1001.90 1366.3,1002.05 1369.6,1002.20 1372.9,1002.35 1376.2,1002.50 1379.6,1002.64 1382.9,1002.77 1386.2,1002.90 1389.5,1003.03 1392.8,1003.16 1396.2,1003.28 1399.5,1003.40 1402.8,1003.51 1406.1,1003.62 1409.4,1003.73 1412.8,1003.84 1416.1,1003.94 1419.4,1004.04 1422.7,1004.13 1426.0,1004.23 1429.3,1004.32 1432.7,1004.41 1436.0,1004.50 1439.3,1004.58 1442.6,1004.66 1445.9,1004.74 1449.3,1004.82 1452.6,1004.89 1455.9,1004.97 1459.2,1005.04 1462.5,1005.11 1465.8,1005.17 1469.2,1005.24 1472.5,1005.30 1475.8,1005.36 1479.1,1005.42 1482.4,1005.48 1485.8,1005.54 1489.1,1005.59 1492.4,1005.65 1495.7,1005.70 1499.0,1005.75 1502.4,1005.80 1505.7,1005.85 1509.0,1005.89 1512.3,1005.94 1515.6,1005.98 1519.0,1006.03 1522.3,1006.07 1525.6,1006.11 1528.9,1006.15 1532.2,1006.19 1535.5,1006.22 1538.9,1006.26 1542.2,1006.29 1545.5,1006.33" fill="none" stroke="#0000ff" stroke-width="2.8" stroke-linejoin="round" stroke-linecap="butt"/></g>
<g><g stroke="#ff00ff" fill="none"><line x1="619.00" y1="476.10" x2="619.00" y2="547.60" stroke-width="1.8"/><line x1="609.00" y1="476.10" x2="629.00" y2="476.10" stroke-width="1.8"/><line x1="619.00" y1="639.10" x2="619.00" y2="567.60" stroke-width="1.8"/><line x1="609.00" y1="639.10" x2="629.00" y2="639.10" stroke-width="1.8"/></g><g stroke="#ff00ff" fill="none"><line x1="766.00" y1="814.80" x2="766.00" y2="825.10" stroke-width="1.8"/><line x1="756.00" y1="814.80" x2="776.00" y2="814.80" stroke-width="1.8"/><line x1="766.00" y1="855.40" x2="766.00" y2="845.10" stroke-width="1.8"/><line x1="756.00" y1="855.40" x2="776.00" y2="855.40" stroke-width="1.8"/></g><rect x="299.90" y="150.30" width="21.60" height="21.60" fill="#ff00ff"/><rect x="447.00" y="269.70" width="21.60" height="21.60" fill="#ff00ff"/><rect x="608.20" y="546.80" width="21.60" height="21.60" fill="#ff00ff"/><rect x="755.20" y="824.30" width="21.60" height="21.60" fill="#ff00ff"/><rect x="916.90" y="947.80" width="21.60" height="21.60" fill="#ff00ff"/><rect x="1064.20" y="979.70" width="21.60" height="21.60" fill="#ff00ff"/><rect x="1225.80" y="992.10" width="21.60" height="21.60" fill="#ff00ff"/><polyline points="218.0,131.84 221.3,132.55 224.6,133.28 228.0,134.03 231.3,134.80 234.6,135.59 237.9,136.41 241.2,137.25 244.6,138.11 247.9,139.00 251.2,139.91 254.5,140.85 257.8,141.82 261.1,142.81 264.5,143.83 267.8,144.88 271.1,145.96 274.4,147.07 277.7,148.21 281.1,149.38 284.4,150.59 287.7,151.82 291.0,153.09 294.3,154.40 297.6,155.74 301.0,157.12 304.3,158.54 307.6,159.99 310.9,161.49 314.2,163.02 317.6,164.59 320.9,166.21 324.2,167.87 327.5,169.57 330.8,171.32 334.2,173.12 337.5,174.96 340.8,176.85 344.1,178.78 347.4,180.77 350.8,182.81 354.1,184.90 357.4,187.04 360.7,189.24 364.0,191.49 367.3,193.79 370.7,196.16 374.0,198.58 377.3,201.06 380.6,203.60 383.9,206.20 387.3,208.86 390.6,211.59 393.9,214.38 397.2,217.23 400.5,220.15 403.9,223.14 407.2,226.19 410.5,229.32 413.8,232.51 417.1,235.77 420.4,239.10 423.8,242.51 427.1,245.99 430.4,249.54 433.7,253.16 437.0,256.86 440.4,260.64 443.7,264.49 447.0,268.41 450.3,272.41 453.6,276.49 456.9,280.65 460.3,284.89 463.6,289.20 466.9,293.59 470.2,298.06 473.5,302.61 476.9,307.23 480.2,311.94 483.5,316.72 486.8,321.58 490.1,326.51 493.5,331.53 496.8,336.62 500.1,341.78 503.4,347.02 506.7,352.33 510.1,357.72 513.4,363.18 516.7,368.71 520.0,374.31 523.3,379.98 526.6,385.72 530.0,391.53 533.3,397.40 536.6,403.33 539.9,409.32 543.2,415.37 546.6,421.48 549.9,427.65 553.2,433.87 556.5,440.14 559.8,446.46 563.1,452.82 566.5,459.24 569.8,465.69 573.1,472.18 576.4,478.71 579.7,485.28 583.1,491.87 586.4,498.50 589.7,505.15 593.0,511.82 596.3,518.51 599.7,525.22 603.0,531.95 606.3,538.68 609.6,545.42 612.9,552.17 616.2,558.92 619.6,565.67 622.9,572.42 626.2,579.16 629.5,585.89 632.8,592.60 636.2,599.30 639.5,605.98 642.8,612.64 646.1,619.27 649.4,625.87 652.8,632.45 656.1,638.99 659.4,645.49 662.7,651.96 666.0,658.38 669.4,664.77 672.7,671.10 676.0,677.39 679.3,683.62 682.6,689.81 685.9,695.93 689.3,702.00 692.6,708.02 695.9,713.97 699.2,719.86 702.5,725.68 705.9,731.44 709.2,737.13 712.5,742.76 715.8,748.31 719.1,753.79 722.5,759.20 725.8,764.54 729.1,769.80 732.4,774.99 735.7,780.10 739.0,785.14 742.4,790.10 745.7,794.99 749.0,799.79 752.3,804.52 755.6,809.17 759.0,813.74 762.3,818.24 765.6,822.65 768.9,826.99 772.2,831.25 775.5,835.43 778.9,839.54 782.2,843.56 785.5,847.51 788.8,851.39 792.1,855.19 795.5,858.91 798.8,862.56 802.1,866.13 805.4,869.63 808.7,873.06 812.1,876.42 815.4,879.70 818.7,882.92 822.0,886.06 825.3,889.14 828.6,892.14 832.0,895.09 835.3,897.96 838.6,900.77 841.9,903.52 845.2,906.20 848.6,908.82 851.9,911.38 855.2,913.88 858.5,916.32 861.8,918.70 865.2,921.02 868.5,923.29 871.8,925.51 875.1,927.66 878.4,929.77 881.8,931.83 885.1,933.83 888.4,935.78 891.7,937.69 895.0,939.54 898.3,941.35 901.7,943.11 905.0,944.83 908.3,946.50 911.6,948.13 914.9,949.72 918.3,951.27 921.6,952.77 924.9,954.24 928.2,955.67 931.5,957.06 934.9,958.41 938.2,959.73 941.5,961.01 944.8,962.26 948.1,963.48 951.4,964.66 954.8,965.81 958.1,966.93 961.4,968.01 964.7,969.07 968.0,970.10 971.4,971.10 974.7,972.08 978.0,973.03 981.3,973.95 984.6,974.84 988.0,975.72 991.3,976.56 994.6,977.39 997.9,978.19 1001.2,978.96 1004.5,979.72 1007.9,980.46 1011.2,981.17 1014.5,981.87 1017.8,982.54 1021.1,983.20 1024.5,983.83 1027.8,984.45 1031.1,985.06 1034.4,985.64 1037.7,986.21 1041.0,986.76 1044.4,987.30 1047.7,987.82 1051.0,988.33 1054.3,988.82 1057.6,989.29 1061.0,989.76 1064.3,990.21 1067.6,990.65 1070.9,991.07 1074.2,991.49 1077.6,991.89 1080.9,992.28 1084.2,992.66 1087.5,993.02 1090.8,993.38 1094.2,993.73 1097.5,994.06 1100.8,994.39 1104.1,994.71 1107.4,995.02 1110.7,995.32 1114.1,995.61 1117.4,995.89 1120.7,996.16 1124.0,996.43 1127.3,996.69 1130.7,996.94 1134.0,997.18 1137.3,997.42 1140.6,997.65 1143.9,997.87 1147.2,998.09 1150.6,998.30 1153.9,998.50 1157.2,998.70 1160.5,998.89 1163.8,999.08 1167.2,999.26 1170.5,999.43 1173.8,999.60 1177.1,999.77 1180.4,999.93 1183.8,1000.09 1187.1,1000.24 1190.4,1000.39 1193.7,1000.53 1197.0,1000.67 1200.3,1000.80 1203.7,1000.93 1207.0,1001.06 1210.3,1001.18 1213.6,1001.30 1216.9,1001.42 1220.3,1001.53 1223.6,1001.64 1226.9,1001.74 1230.2,1001.85 1233.5,1001.95 1236.9,1002.04 1240.2,1002.14 1243.5,1002.23 1246.8,1002.32 1250.1,1002.40 1253.5,1002.49 1256.8,1002.57 1260.1,1002.65 1263.4,1002.72 1266.7,1002.80 1270.0,1002.87 1273.4,1002.94 1276.7,1003.01 1280.0,1003.07 1283.3,1003.14 1286.6,1003.20 1290.0,1003.26 1293.3,1003.32 1296.6,1003.37 1299.9,1003.43 1303.2,1003.48 1306.5,1003.53 1309.9,1003.58 1313.2,1003.63 1316.5,1003.68 1319.8,1003.72 1323.1,1003.77 1326.5,1003.81 1329.8,1003.85 1333.1,1003.89 1336.4,1003.93 1339.7,1003.97 1343.1,1004.01 1346.4,1004.04 1349.7,1004.08 1353.0,1004.11 1356.3,1004.15 1359.7,1004.18 1363.0,1004.21 1366.3,1004.24 1369.6,1004.27 1372.9,1004.30 1376.2,1004.32 1379.6,1004.35 1382.9,1004.38 1386.2,1004.40 1389.5,1004.43 1392.8,1004.45 1396.2,1004.47 1399.5,1004.50 1402.8,1004.52 1406.1,1004.54 1409.4,1004.56 1412.8,1004.58 1416.1,1004.60 1419.4,1004.62 1422.7,1004.63 1426.0,1004.65 1429.3,1004.67 1432.7,1004.68 1436.0,1004.70 1439.3,1004.72 1442.6,1004.73 1445.9,1004.75 1449.3,1004.76 1452.6,1004.77 1455.9,1004.79 1459.2,1004.80 1462.5,1004.81 1465.8,1004.83 1469.2,1004.84 1472.5,1004.85 1475.8,1004.86 1479.1,1004.87 1482.4,1004.88 1485.8,1004.89 1489.1,1004.90 1492.4,1004.91 1495.7,1004.92 1499.0,1004.93 1502.4,1004.94 1505.7,1004.95 1509.0,1004.95 1512.3,1004.96 1515.6,1004.97 1519.0,1004.98 1522.3,1004.99 1525.6,1004.99 1528.9,1005.00 1532.2,1005.01 1535.5,1005.01 1538.9,1005.02 1542.2,1005.03 1545.5,1005.03" fill="none" stroke="#ff00ff" stroke-width="2.8" stroke-linejoin="round" stroke-linecap="butt"/></g>
<g stroke="#848484" stroke-width="3.3" stroke-linecap="round"><line x1="1418.25" y1="68.1" x2="1444.65" y2="68.1"/><line x1="1482.75" y1="68.1" x2="1509.95" y2="68.1"/></g>
<rect x="1450.6" y="55.4" width="25.50" height="25.05" fill="#848484"/>
<text transform="translate(1518.68,78.40) scale(0.9853,1)" font-family='"Liberation Sans", sans-serif' stroke="#000" stroke-width="0.3" font-size="43.6" fill="#000" text-rendering="geometricPrecision" >at pH 5.5</text>
<g stroke="#000" stroke-width="3.3" stroke-linecap="round"><line x1="1417.55" y1="124.5" x2="1444.15" y2="124.5"/><line x1="1481.75" y1="124.5" x2="1509.35" y2="124.5"/></g>
<ellipse cx="1462.85" cy="125.20" rx="15.00" ry="15.00" fill="#000"/>
<text transform="translate(1567.35,138.30) scale(0.9770,1)" font-family='"Liberation Sans", sans-serif' stroke="#000" stroke-width="0.3" font-size="43.6" fill="#000" text-rendering="geometricPrecision" >pH 6.0</text>
<g stroke="#00ff00" stroke-width="3.3" stroke-linecap="round"><line x1="1416.55" y1="191.2" x2="1443.65" y2="191.2"/><line x1="1480.95" y1="191.2" x2="1509.15" y2="191.2"/></g>
<polygon points="1462.50,174.85 1479.82,205.30 1445.18,205.30" fill="#00ff00" stroke="#00ff00" stroke-width="1.6" stroke-linejoin="round"/>
<text transform="translate(1566.87,204.00) scale(0.9876,1)" font-family='"Liberation Sans", sans-serif' stroke="#000" stroke-width="0.3" font-size="44.5" fill="#000" text-rendering="geometricPrecision" >pH 6.5</text>
<g stroke="#0000ff" stroke-width="3.3" stroke-linecap="round"><line x1="1417.45" y1="260.75" x2="1444.35" y2="260.75"/><line x1="1481.75" y1="260.75" x2="1509.45" y2="260.75"/></g>
<polygon points="1445.53,246.36 1479.82,246.36 1462.67,276.00" fill="#0000ff" stroke="#0000ff" stroke-width="1.6" stroke-linejoin="round"/>
<text transform="translate(1566.86,271.50) scale(0.9904,1)" font-family='"Liberation Sans", sans-serif' stroke="#000" stroke-width="0.3" font-size="44.5" fill="#000" text-rendering="geometricPrecision" >pH 6.7</text>
<g stroke="#ff00ff" stroke-width="3.3" stroke-linecap="round"><line x1="1417.95" y1="325.9" x2="1445.15" y2="325.9"/><line x1="1482.55" y1="325.9" x2="1510.35" y2="325.9"/></g>
<rect x="1449.9" y="313.9" width="27.00" height="26.80" fill="#ff00ff"/>
<text transform="translate(1566.85,342.40) scale(0.9952,1)" font-family='"Liberation Sans", sans-serif' stroke="#000" stroke-width="0.3" font-size="44.5" fill="#000" text-rendering="geometricPrecision" >pH 6.85</text>
</svg>
</body></html>
